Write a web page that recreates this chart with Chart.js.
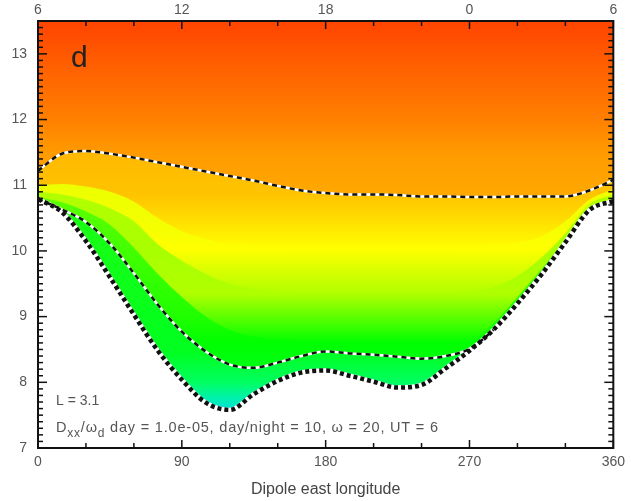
<!DOCTYPE html>
<html>
<head>
<meta charset="utf-8">
<script src="https://cdn.jsdelivr.net/npm/chart.js@4/dist/chart.umd.min.js"></script>
<style>
  html, body { margin: 0; padding: 0; background: #fff; }
  #wrap { width: 631px; height: 501px; position: relative; }
</style>
</head>
<body>
<div id="wrap"><canvas id="driftChart"></canvas></div>
<script>
// dipole east longitude (deg)
const lon = [0, 15, 30, 45, 60, 75, 90, 105, 120, 135, 150, 165, 180, 195, 210, 225, 240, 255, 270, 285, 300, 315, 330, 345, 360];
// L values
const upperDash = [11.22, 11.48, 11.52, 11.48, 11.42, 11.35, 11.28, 11.21, 11.14, 11.07, 10.99, 10.92, 10.88, 10.86, 10.86, 10.85, 10.83, 10.83, 10.82, 10.82, 10.83, 10.83, 10.83, 10.92, 11.08];
const yellowEdge = [11.00, 11.02, 10.98, 10.90, 10.75, 10.50, 10.30, 10.18, 10.10, 10.06, 10.04, 10.03, 10.03, 10.03, 10.03, 10.03, 10.03, 10.03, 10.04, 10.07, 10.12, 10.22, 10.45, 10.78, 10.94];
const limeEdge = [10.90, 10.86, 10.78, 10.65, 10.45, 10.10, 9.85, 9.65, 9.50, 9.42, 9.38, 9.36, 9.35, 9.35, 9.35, 9.35, 9.35, 9.36, 9.38, 9.45, 9.62, 9.90, 10.27, 10.71, 10.86];
const greenEdge = [10.82, 10.74, 10.60, 10.40, 10.05, 9.65, 9.30, 9.00, 8.80, 8.70, 8.65, 8.62, 8.60, 8.58, 8.58, 8.58, 8.58, 8.58, 8.62, 8.90, 9.30, 9.72, 10.18, 10.65, 10.79];
const middleDash = [10.79, 10.63, 10.44, 10.11, 9.66, 9.18, 8.77, 8.47, 8.27, 8.22, 8.30, 8.40, 8.47, 8.44, 8.42, 8.39, 8.36, 8.40, 8.51, 8.80, 9.20, 9.64, 10.13, 10.62, 10.76];
const lowerEdge = [10.79, 10.59, 10.15, 9.60, 9.03, 8.48, 8.04, 7.69, 7.58, 7.82, 8.02, 8.15, 8.18, 8.10, 8.01, 7.92, 7.96, 8.21, 8.48, 8.80, 9.20, 9.64, 10.13, 10.62, 10.76];
const middleEnd = 280; // middle dashed merges into the lower edge here

const topLabels = ['6', '12', '18', '0', '6'];

// colour stops along L for each band
const bandTop = [[13.5, '#ff4400'], [13.0, '#ff5800'], [12.0, '#ff8000'], [11.5, '#ff9a00'], [10.8, '#ffaa00']];
const bandOrange = [[11.5, '#ffb800'], [10.85, '#ffc400'], [10.5, '#ffdc00'], [10.03, '#ffff00']];
const bandYellow = [[11.0, '#ecff00'], [10.4, '#f4ff00'], [10.03, '#ffff00'], [9.35, '#b0ff00']];
const bandLime = [[11.0, '#b4ff00'], [10.0, '#a8ff00'], [9.35, '#b0ff00'], [8.6, '#00ff00']];
const bandGreen = [[11.0, '#64ff00'], [9.0, '#20ff00'], [8.6, '#00ff00'], [8.3, '#00ff10']];
const bandCyan = [[11.0, '#20ff10'], [8.45, '#00ff20'], [8.0, '#00ff60'], [7.75, '#00f0b0'], [7.55, '#00e0e0']];

const pts = arr => lon.map((x, i) => ({ x, y: arr[i] }));

function vGrad(chart, stops) {
  const y = chart.scales.y;
  const top = y.getPixelForValue(stops[0][0]);
  const bot = y.getPixelForValue(stops[stops.length - 1][0]);
  const g = chart.ctx.createLinearGradient(0, top, 0, bot);
  stops.forEach(([v, c]) => g.addColorStop(Math.min(1, Math.max(0, (y.getPixelForValue(v) - top) / (bot - top))), c));
  return g;
}

function band(arr, stops) {
  return {
    data: pts(arr),
    fill: 'end',
    borderWidth: 0,
    pointRadius: 0,
    cubicInterpolationMode: 'monotone',
    order: 3,
    backgroundColor: c => c.chart.chartArea ? vGrad(c.chart, stops) : stops[0][1]
  };
}

function curve(arr, color, width, dash, order, extra) {
  return Object.assign({
    data: pts(arr),
    fill: false,
    borderColor: color,
    borderWidth: width,
    borderDash: dash,
    pointRadius: 0,
    cubicInterpolationMode: 'monotone',
    order
  }, extra || {});
}

const hideAfterMerge = {
  segment: { borderColor: s => s.p0.parsed.x >= middleEnd ? 'rgba(0,0,0,0)' : undefined }
};

const frameTicks = {
  id: 'frameTicks',
  afterDatasetsDraw(chart) {
    const { ctx, chartArea: a, scales } = chart;
    ctx.save();
    ctx.strokeStyle = '#111';
    ctx.lineWidth = 1.5;
    const seg = (x1, y1, x2, y2) => { ctx.beginPath(); ctx.moveTo(x1, y1); ctx.lineTo(x2, y2); ctx.stroke(); };
    scales.x.ticks.forEach(t => {
      const px = scales.x.getPixelForValue(t.value);
      const len = t.value % 90 === 0 ? 8 : 5;
      seg(px, a.bottom, px, a.bottom - len);
      seg(px, a.top, px, a.top + len);
    });
    scales.y.ticks.forEach(t => {
      const py = scales.y.getPixelForValue(t.value);
      const len = Math.abs(t.value - Math.round(t.value)) < 1e-6 ? 9 : 5;
      seg(a.left, py, a.left + len, py);
      seg(a.right, py, a.right - len, py);
    });
    ctx.lineWidth = 2;
    ctx.strokeRect(a.left, a.top, a.right - a.left, a.bottom - a.top);
    ctx.restore();
  }
};

const notes = {
  id: 'notes',
  afterDraw(chart) {
    const ctx = chart.ctx;
    const fam = 'px "Liberation Sans", Arial, sans-serif';
    ctx.save();
    ctx.fillStyle = '#222';
    ctx.font = '30' + fam;
    ctx.textBaseline = 'alphabetic';
    ctx.fillText('d', 71, 67);
    ctx.fillStyle = '#555';
    ctx.font = '14' + fam;
    ctx.fillText('L = 3.1', 56, 405);
    if ('letterSpacing' in ctx) ctx.letterSpacing = '0.8px';
    let x = 56;
    const base = 432;
    const put = (txt, size, dy) => {
      ctx.font = size + fam;
      ctx.fillText(txt, x, base + dy);
      x += ctx.measureText(txt).width;
    };
    put('D', 14.5, 0);
    put('xx', 12, 5);
    put('/ω', 14.5, 0);
    put('d', 12, 5);
    put(' day = 1.0e-05, day/night = 10, ω = 20, UT = 6', 14.5, 0);
    ctx.restore();
  }
};

const tickFont = { family: '"Liberation Sans", Arial, sans-serif', size: 14 };

new Chart(document.getElementById('driftChart'), {
  type: 'line',
  data: {
    datasets: [
      band(upperDash, bandTop),
      band(yellowEdge, bandOrange),
      band(limeEdge, bandYellow),
      band(greenEdge, bandLime),
      band(middleDash, bandGreen),
      band(lowerEdge, bandCyan),
      curve(lowerEdge, '#111', 4.5, [4, 3], 1),
      curve(lowerEdge, '#fff', 4.5, [], 2),
      curve(middleDash, '#111', 2.5, [5, 4], 1, hideAfterMerge),
      curve(middleDash, '#fff', 2.5, [], 2, hideAfterMerge),
      curve(upperDash, '#111', 2.5, [5, 4], 1),
      curve(upperDash, '#fff', 2.5, [], 2)
    ]
  },
  options: {
    responsive: true,
    maintainAspectRatio: false,
    animation: false,
    layout: { padding: { left: 0, right: 16, top: 0, bottom: 0 } },
    plugins: {
      legend: { display: false },
      tooltip: { enabled: false },
      filler: { drawTime: 'beforeDatasetsDraw' }
    },
    scales: {
      x: {
        type: 'linear', position: 'bottom', min: 0, max: 360,
        grid: { display: false, drawTicks: false },
        border: { display: false },
        ticks: {
          stepSize: 30, autoSkip: false, maxRotation: 0, padding: 6, color: '#555', font: tickFont,
          callback: v => v % 90 === 0 ? String(v) : ''
        },
        title: {
          display: true, text: 'Dipole east longitude', color: '#444',
          font: { family: tickFont.family, size: 16 }, padding: { top: 0, bottom: 2 }
        },
        afterFit: s => { s.height = 53; }
      },
      x2: {
        type: 'linear', axis: 'x', position: 'top', min: 0, max: 360,
        grid: { display: false, drawTicks: false },
        border: { display: false },
        ticks: {
          stepSize: 30, autoSkip: false, maxRotation: 0, padding: 2, color: '#555', font: tickFont,
          callback: v => v % 90 === 0 ? topLabels[v / 90] : ''
        },
        afterFit: s => { s.height = 21; }
      },
      y: {
        min: 7, max: 13.5,
        grid: { display: false, drawTicks: false },
        border: { display: false },
        ticks: {
          stepSize: 0.1, autoSkip: false, padding: 11, color: '#555', font: tickFont,
          callback: v => Math.abs(v - Math.round(v)) < 1e-6 ? String(Math.round(v)) : ''
        },
        afterFit: s => { s.width = 38; }
      }
    }
  },
  plugins: [frameTicks, notes]
});
</script>
</body>
</html>
